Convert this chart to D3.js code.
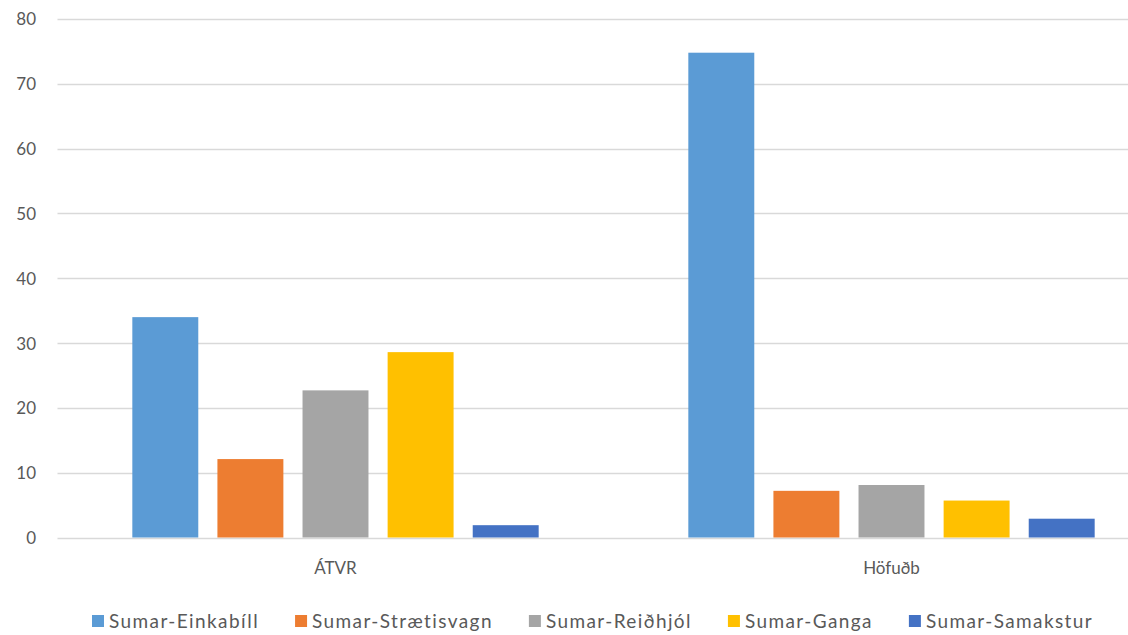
<!DOCTYPE html>
<html>
<head>
<meta charset="utf-8">
<script src="https://cdn.jsdelivr.net/npm/d3@7/dist/d3.min.js"></script>
<style>
  html, body { margin: 0; padding: 0; background: #ffffff; }
  svg { display: block; }
  text { font-family: Lato, "Open Sans", sans-serif; fill: #595959; }
</style>
</head>
<body>
<svg id="chart" width="1128" height="635"></svg>
<script>
const categories = ["ÁTVR", "Höfuðb"];
const seriesNames = ["Sumar-Einkabíll", "Sumar-Strætisvagn", "Sumar-Reiðhjól", "Sumar-Ganga", "Sumar-Samakstur"];
const einkabill = [34, 74.8];
const straetisvagn = [12.1, 7.2];
const reidhjol = [22.7, 8.1];
const ganga = [28.6, 5.7];
const samakstur = [1.9, 2.9];
const yTicks = [0, 10, 20, 30, 40, 50, 60, 70, 80];
const colors = ["#5B9BD5", "#ED7D31", "#A5A5A5", "#FFC000", "#4472C4"];

const seriesValues = [einkabill, straetisvagn, reidhjol, ganga, samakstur];

const W = 1128, H = 635;
const svg = d3.select("#chart");

const plotLeft = 57.5, plotRight = 1169.5, plotTop = 19, plotBottom = 537.5;

const x0 = d3.scaleBand().domain(categories).range([plotLeft, plotRight]);
const groupHalf = 212.75;
const x1 = d3.scaleBand().domain(seriesNames).range([-groupHalf, groupHalf])
  .paddingInner(0.225).paddingOuter(0.1125);
const y = d3.scaleLinear().domain([0, 80]).range([plotBottom, plotTop]);

// gridlines
svg.append("g").selectAll("line").data(yTicks).join("line")
  .attr("x1", plotLeft).attr("x2", W)
  .attr("y1", d => Math.round(y(d)) + 0.5).attr("y2", d => Math.round(y(d)) + 0.5)
  .attr("stroke", "#D9D9D9").attr("stroke-width", 1.3);

// y axis labels
const yAxis = d3.axisLeft(y).tickValues(yTicks).tickSize(0).tickPadding(0);
const yg = svg.append("g").attr("transform", `translate(${36},0)`).call(yAxis);
yg.select(".domain").remove();
yg.selectAll("text").attr("font-size", 17).attr("fill", "#595959")
  .style("font-family", "Lato, sans-serif").attr("dy", "0.35em");

// bars
const groups = svg.append("g").selectAll("g").data(categories).join("g")
  .attr("transform", c => `translate(${x0(c) + x0.bandwidth() / 2},0)`);
groups.selectAll("rect")
  .data((c, ci) => seriesNames.map((s, si) => ({ s, si, v: seriesValues[si][ci] })))
  .join("rect")
  .attr("x", d => x1(d.s))
  .attr("width", x1.bandwidth())
  .attr("y", d => y(d.v))
  .attr("height", d => y(0) - y(d.v))
  .attr("fill", d => colors[d.si]);

// x axis labels
const xAxis = d3.axisBottom(x0).tickSize(0).tickPadding(0);
const xg = svg.append("g").attr("transform", `translate(0,${562})`).call(xAxis);
xg.select(".domain").remove();
xg.selectAll("text").attr("font-size", 17).attr("fill", "#595959")
  .style("font-family", "Lato, sans-serif");

// legend
const legend = svg.append("g").attr("transform", `translate(0,${621})`);
let lx = 92;
seriesNames.forEach((s, i) => {
  const g = legend.append("g").attr("transform", `translate(${lx},0)`);
  g.append("rect").attr("x", 0).attr("y", -6).attr("width", 12).attr("height", 12).attr("fill", colors[i]);
  const t = g.append("text").attr("x", 17).attr("y", 0).attr("dy", "0.35em")
    .attr("font-size", 19).style("letter-spacing", "1.4px").text(s);
  const w = t.node().getComputedTextLength();
  lx += 17 + w + 36;
});
</script>
</body>
</html>
